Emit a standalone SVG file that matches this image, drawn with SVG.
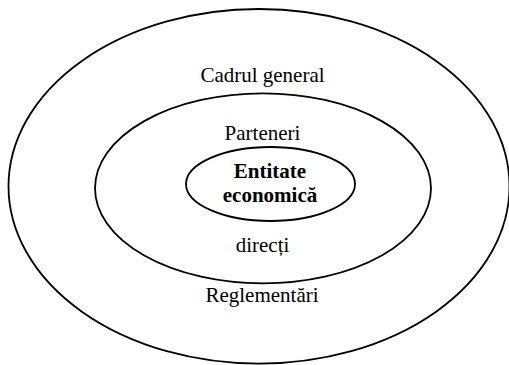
<svg xmlns="http://www.w3.org/2000/svg" width="509" height="365" viewBox="0 0 509 365">
<style>
.ring{fill:none;stroke:#000;stroke-width:1.8}
.t{font-family:"Liberation Serif","Times New Roman",serif;font-size:21px;fill:#000;text-anchor:middle}
.b{font-weight:bold}
</style>
<rect width="509" height="365" fill="#fff"/>
<g id="outer">
<ellipse class="ring" cx="259" cy="186.3" rx="250.5" ry="177.3"/>
<text class="t" x="262.5" y="81.5">Cadrul general</text>
<text class="t" x="262" y="302">Reglementări</text>
</g>
<g id="middle">
<ellipse class="ring" cx="263" cy="188.3" rx="168" ry="95"/>
<text class="t" x="262.5" y="140">Parteneri</text>
<text class="t" x="262.5" y="251.5">direcți</text>
</g>
<g id="inner">
<ellipse class="ring" cx="270.5" cy="184" rx="84.5" ry="37"/>
<text class="t b" x="270" y="178">Entitate</text>
<text class="t b" x="270" y="202">economică</text>
</g>
<g id="connectors"/>
</svg>
